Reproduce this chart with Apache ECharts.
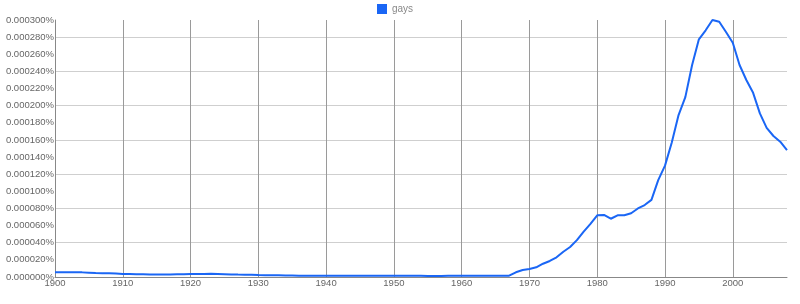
<!DOCTYPE html>
<html><head><meta charset="utf-8">
<script src="https://cdn.jsdelivr.net/npm/echarts@6/dist/echarts.min.js"></script>
<style>html,body{margin:0;padding:0;background:#fff}#c{width:800px;height:304px}</style>
</head><body><div id="c"></div>
<script>
const seriesName = 'gays';
const years = [];
for (let y = 1900; y <= 2008; y++) years.push(y);
// values in percent
const values = [
0.0000055,0.0000055,0.0000055,0.0000055,0.0000054,0.0000050,0.0000046,0.0000045,0.0000044,0.0000040,
0.0000036,0.0000034,0.0000032,0.0000031,0.0000030,0.0000029,0.0000029,0.0000030,0.0000031,0.0000032,
0.0000034,0.0000035,0.0000036,0.0000037,0.0000035,0.0000033,0.0000030,0.0000028,0.0000027,0.0000025,
0.0000022,0.0000021,0.0000020,0.0000019,0.0000018,0.0000017,0.0000016,0.0000016,0.0000015,0.0000015,
0.0000014,0.0000014,0.0000014,0.0000015,0.0000015,0.0000015,0.0000015,0.0000015,0.0000014,0.0000014,
0.0000015,0.0000015,0.0000014,0.0000014,0.0000014,0.0000013,0.0000013,0.0000013,0.0000014,0.0000014,
0.0000014,0.0000014,0.0000014,0.0000014,0.0000014,0.0000014,0.0000014,0.0000015,0.0000055,0.0000082,
0.0000093,0.0000113,0.0000155,0.0000187,0.0000230,0.0000295,0.0000350,0.0000430,0.0000530,0.0000620,
0.0000720,0.0000724,0.0000680,0.0000720,0.0000720,0.0000744,0.0000800,0.0000840,0.0000900,0.0001130,
0.0001300,0.0001570,0.0001890,0.0002100,0.0002475,0.0002775,0.0002880,0.0003000,0.0002980,0.0002860,
0.0002735,0.0002475,0.0002300,0.0002150,0.0001910,0.0001740,0.0001646,0.0001580,0.0001480
];
const yTickStep = 0.00002;
const xTickStep = 10;

const data = years.map((y, i) => [y, values[i]]);
const NONE = 'rgba(0,0,0,0)';
// y split lines: every other tick (0, 0.00004, ...)
const yLineColors = ['#cfcfcf', NONE];
// x split lines: 1910..2000 drawn, 1900 and extent end (2008) hidden
const xLineColors = [];
for (let i = 0; i < 11; i++) xLineColors.push(i === 0 ? NONE : '#9a9a9a');
xLineColors.push(NONE);

const FONT = 'Liberation Sans, Arial, sans-serif';
const chart = echarts.init(document.getElementById('c'));
chart.setOption({
  animation: false,
  textStyle: {fontFamily: FONT},
  legend: {
    top: 4, left: 377, padding: 0,
    itemWidth: 10, itemHeight: 10, itemGap: 6,
    icon: 'rect',
    textStyle: {color: '#888', fontSize: 10, fontFamily: FONT},
    data: [seriesName]
  },
  grid: {left: 55, right: 13, top: 20, bottom: 27, containLabel: false, outerBoundsMode: 'none'},
  xAxis: {
    type: 'value', min: 1900, max: 2008, interval: xTickStep,
    axisLine: {show: true, lineStyle: {color: '#888', width: 1}},
    axisTick: {show: false},
    splitLine: {show: true, lineStyle: {color: xLineColors, width: 1}},
    axisLabel: {
      color: '#666', fontSize: 9.5, margin: 1.5, showMaxLabel: false,
      formatter: v => (v % 10 === 0 ? String(v) : '')
    }
  },
  yAxis: {
    type: 'value', min: 0, max: 0.0003, interval: yTickStep,
    axisLine: {show: true, lineStyle: {color: '#888', width: 1}},
    axisTick: {show: false},
    splitLine: {show: true, lineStyle: {color: yLineColors, width: 1}},
    axisLabel: {color: '#666', fontSize: 9.5, margin: 1, formatter: v => v.toFixed(6) + '%'}
  },
  series: [
    {
      name: seriesName, type: 'line', data: data, showSymbol: false, z: 3,
      color: '#1a66f5',
      lineStyle: {color: '#1a66f5', width: 2}
    }
  ]
});
</script>
</body></html>
